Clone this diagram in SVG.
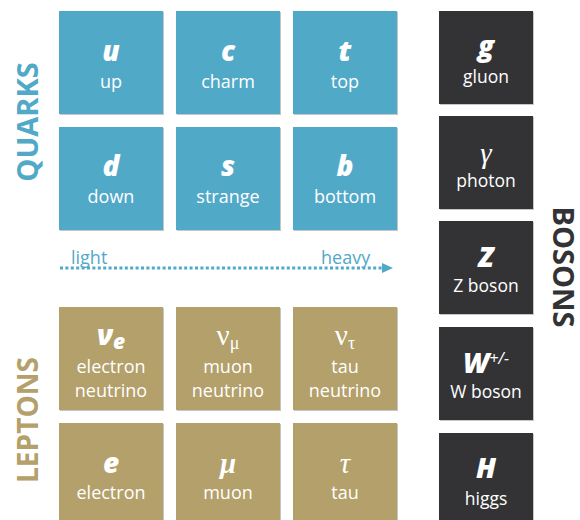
<svg xmlns="http://www.w3.org/2000/svg" width="580" height="520" viewBox="0 0 580 520">
  <defs>
    <style>
      .quark { fill: #51a9c8; }
      .lepton { fill: #b3a06a; }
      .boson { fill: #333335; }
      .shade { fill: #c4c6c8; }
      .sym { font-family: "Open Sans", "Noto Sans", sans-serif; font-size: 28px; font-weight: 800; font-style: italic; fill: #ffffff; text-anchor: middle; }
      .gsym { font-family: "Liberation Serif", "DejaVu Serif", serif; font-size: 29px; fill: #ffffff; text-anchor: middle; }
      .lbl { font-family: "Open Sans", "Noto Sans", sans-serif; font-size: 18px; fill: #ffffff; text-anchor: middle; }
      .blbl { font-family: "Open Sans", "Noto Sans", sans-serif; font-size: 17.5px; fill: #ffffff; text-anchor: middle; }
      .side { font-family: "Open Sans", "Noto Sans", sans-serif; font-size: 29px; font-weight: bold; text-anchor: middle; }
      .scale { font-family: "Open Sans", "Noto Sans", sans-serif; font-size: 18px; fill: #51a9c8; }
    </style>
  </defs>

  <!-- group titles -->
  <text class="side" fill="#51a9c8" transform="translate(38,122) rotate(-90)">QUARKS</text>
  <text class="side" fill="#b3a06a" transform="translate(38,420) rotate(-90)" textLength="126" lengthAdjust="spacingAndGlyphs">LEPTONS</text>
  <text class="side" fill="#333335" transform="translate(553,267) rotate(90)">BOSONS</text>

  <!-- quarks -->
  <g id="up"><rect class="shade" x="60" y="12" width="104" height="103"/><rect class="quark" x="59" y="11" width="104" height="103"/><text class="sym" x="111" y="61">u</text><text class="lbl" x="111" y="88">up</text></g>
  <g id="charm"><rect class="shade" x="177" y="12" width="104" height="103"/><rect class="quark" x="176" y="11" width="104" height="103"/><text class="sym" x="228" y="61">c</text><text class="lbl" x="228" y="88">charm</text></g>
  <g id="top"><rect class="shade" x="294" y="12" width="104" height="103"/><rect class="quark" x="293" y="11" width="104" height="103"/><text class="sym" x="345" y="61">t</text><text class="lbl" x="345" y="88">top</text></g>
  <g id="down"><rect class="shade" x="60" y="128" width="104" height="103"/><rect class="quark" x="59" y="127" width="104" height="103"/><text class="sym" x="111" y="176">d</text><text class="lbl" x="111" y="203">down</text></g>
  <g id="strange"><rect class="shade" x="177" y="128" width="104" height="103"/><rect class="quark" x="176" y="127" width="104" height="103"/><text class="sym" x="228" y="176">s</text><text class="lbl" x="228" y="203">strange</text></g>
  <g id="bottom"><rect class="shade" x="294" y="128" width="104" height="103"/><rect class="quark" x="293" y="127" width="104" height="103"/><text class="sym" x="345" y="176">b</text><text class="lbl" x="345" y="203">bottom</text></g>

  <!-- mass scale -->
  <g id="scale">
    <text class="scale" x="71" y="264">light</text>
    <text class="scale" x="321" y="264">heavy</text>
  </g>
  <g id="connectors">
    <line x1="60" y1="268" x2="382" y2="268" stroke="#51a9c8" stroke-width="3" stroke-dasharray="3 2.4"/>
    <polygon points="382,263 393,268 382,273" fill="#51a9c8"/>
  </g>

  <!-- leptons -->
  <g id="electron-neutrino"><rect class="shade" x="60" y="308" width="104" height="103"/><rect class="lepton" x="59" y="307" width="104" height="103"/><text class="sym" x="111" y="345">ν<tspan font-size="21" dy="4">e</tspan></text><text class="lbl" x="111" y="373">electron</text><text class="lbl" x="111" y="397">neutrino</text></g>
  <g id="muon-neutrino"><rect class="shade" x="177" y="308" width="104" height="103"/><rect class="lepton" x="176" y="307" width="104" height="103"/><text class="gsym" x="228" y="345">ν<tspan font-size="18" dy="4">μ</tspan></text><text class="lbl" x="228" y="373">muon</text><text class="lbl" x="228" y="397">neutrino</text></g>
  <g id="tau-neutrino"><rect class="shade" x="294" y="308" width="104" height="103"/><rect class="lepton" x="293" y="307" width="104" height="103"/><text class="gsym" x="345" y="345">ν<tspan font-size="18" dy="4">τ</tspan></text><text class="lbl" x="345" y="373">tau</text><text class="lbl" x="345" y="397">neutrino</text></g>
  <g id="electron"><rect class="shade" x="60" y="424" width="104" height="103"/><rect class="lepton" x="59" y="423" width="104" height="103"/><text class="sym" x="111" y="473">e</text><text class="lbl" x="111" y="499">electron</text></g>
  <g id="muon"><rect class="shade" x="177" y="424" width="104" height="103"/><rect class="lepton" x="176" y="423" width="104" height="103"/><text class="gsym" x="228" y="473" font-style="italic" font-weight="bold">μ</text><text class="lbl" x="228" y="499">muon</text></g>
  <g id="tau"><rect class="shade" x="294" y="424" width="104" height="103"/><rect class="lepton" x="293" y="423" width="104" height="103"/><text class="gsym" x="345" y="473" font-style="italic">τ</text><text class="lbl" x="345" y="499">tau</text></g>

  <!-- bosons -->
  <g id="gluon"><rect class="shade" x="440" y="12" width="94" height="93"/><rect class="boson" x="439" y="11" width="94" height="93"/><text class="sym" x="486" y="56">g</text><text class="blbl" x="486" y="83">gluon</text></g>
  <g id="photon"><rect class="shade" x="440" y="117" width="94" height="93"/><rect class="boson" x="439" y="116" width="94" height="93"/><text class="gsym" x="486" y="163" font-style="italic">γ</text><text class="blbl" x="486" y="187">photon</text></g>
  <g id="z-boson"><rect class="shade" x="440" y="222" width="94" height="93"/><rect class="boson" x="439" y="221" width="94" height="93"/><text class="sym" x="486" y="267">Z</text><text class="blbl" x="486" y="292">Z boson</text></g>
  <g id="w-boson"><rect class="shade" x="440" y="328" width="94" height="93"/><rect class="boson" x="439" y="327" width="94" height="93"/><text class="sym" x="486" y="373">W<tspan font-size="16" font-weight="normal" dy="-9">+/-</tspan></text><text class="blbl" x="486" y="398">W boson</text></g>
  <g id="higgs"><rect class="shade" x="440" y="434" width="94" height="93"/><rect class="boson" x="439" y="433" width="94" height="93"/><text class="sym" x="486" y="478">H</text><text class="blbl" x="486" y="505">higgs</text></g>
</svg>
